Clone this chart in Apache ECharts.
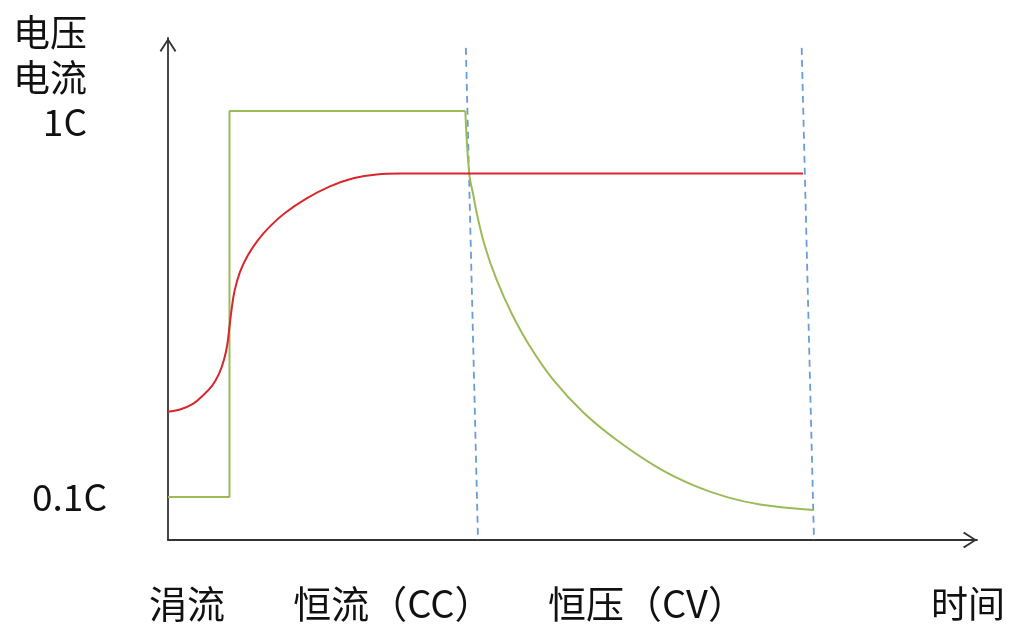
<!DOCTYPE html>
<html>
<head>
<meta charset="utf-8">
<script src="https://cdn.jsdelivr.net/npm/echarts@6/dist/echarts.min.js"></script>
<style>
html,body{margin:0;padding:0;background:#fff;}
#chart{width:1015px;height:628px;}
</style>
</head>
<body>
<div id="chart"></div>
<script>
// ---- data (time in arbitrary units 0..100, level in units of C) ----
const phaseLabels = ['涓流', '恒流（CC）', '恒压（CV）'];
const phaseLabelTimes = [2.35, 27.8, 59.2];
const yTickValues = [0.1, 1];
const yTickLabels = ['0.1C', '1C'];
const yAxisTitle = '电压\n电流';
const xAxisTitle = '时间';

// charging current: trickle, constant-current step, then taper in CV phase
const currentStep = [[0, 0.1], [7.6, 0.1], [7.6, 1.0], [36.75, 1.0]];
const currentTaper = [
  [36.75, 1.0], [37.24, 0.853], [37.74, 0.804], [38.16, 0.762], [39.18, 0.684],
  [40.63, 0.606], [42.48, 0.528], [44.75, 0.451], [47.63, 0.373], [51.34, 0.297],
  [55.46, 0.233], [60.6, 0.168], [64.89, 0.128], [69.1, 0.100], [73.18, 0.083],
  [79.73, 0.070]
];
// battery voltage
const voltage = [
  [0, 0.299], [1.48, 0.304], [3.13, 0.318], [4.33, 0.337], [5.44, 0.359],
  [6.30, 0.387], [6.92, 0.420], [7.33, 0.455], [7.58, 0.494], [7.85, 0.536],
  [8.22, 0.580], [8.90, 0.625], [9.89, 0.664], [11.12, 0.699], [12.61, 0.731],
  [14.46, 0.762], [17.14, 0.796], [20.02, 0.824], [22.9, 0.843], [25.8, 0.852],
  [28.68, 0.854], [78.5, 0.854]
];
// phase boundaries (dashed)
const boundaryCC = [[36.82, 1.147], [38.32, 0]];
const boundaryCV = [[78.33, 1.147], [79.85, 0]];

const FONT = '"Noto Sans CJK SC", "Noto Sans", sans-serif';
const TEXT = '#111111';
const AXIS = '#333333';
const chevron = 'path://M8.5,0 L17,13 L15.5,14.3 L8.5,3.2 L1.5,14.3 L0,13 Z';

const chart = echarts.init(document.getElementById('chart'), null, {renderer: 'canvas'});
chart.setOption({
  animation: false,
  backgroundColor: '#ffffff',
  grid: {left: 168, right: 38, top: 38, bottom: 88, containLabel: false, outerBoundsMode: 'none'},
  xAxis: {
    type: 'value', min: 0, max: 100,
    name: xAxisTitle, nameLocation: 'end', nameGap: -9, nameMoveOverlap: false,
    nameTextStyle: {fontFamily: FONT, fontSize: 37, color: TEXT, align: 'center', verticalAlign: 'top', lineHeight: 40, padding: [44, 0, 0, 0]},
    axisLine: {show: true, onZero: false, symbol: ['none', chevron], symbolSize: [17, 14], symbolOffset: [0, -7], lineStyle: {color: AXIS, width: 1.8}},
    axisTick: {show: false},
    splitLine: {show: false},
    axisLabel: {
      show: true, customValues: phaseLabelTimes, margin: 44,
      fontFamily: FONT, fontSize: 38, color: TEXT, lineHeight: 40,
      formatter: function (v) { const i = phaseLabelTimes.indexOf(v); return i >= 0 ? phaseLabels[i] : ''; }
    }
  },
  yAxis: {
    type: 'value', min: 0, max: 1.17,
    name: yAxisTitle, nameLocation: 'end', nameGap: 28, nameMoveOverlap: false,
    nameTextStyle: {fontFamily: FONT, fontSize: 37, color: TEXT, align: 'right', verticalAlign: 'top', lineHeight: 45, padding: [0, 81, 0, 0]},
    axisLine: {show: true, onZero: false, symbol: ['none', chevron], symbolSize: [17, 14], symbolOffset: [0, -7], lineStyle: {color: AXIS, width: 1.8}},
    axisTick: {show: false},
    splitLine: {show: false},
    axisLabel: {
      show: true, customValues: yTickValues, margin: 61,
      fontFamily: FONT, fontSize: 37, color: TEXT, lineHeight: 22,
      formatter: function (v) {
        const i = yTickValues.indexOf(v);
        if (i < 0) return '';
        return v === 1 ? '\n{b|' + yTickLabels[i] + '}' : yTickLabels[i];
      },
      rich: {b: {fontFamily: FONT, fontSize: 37, color: TEXT, lineHeight: 22, padding: [0, 20, 0, 0]}}
    }
  },
  series: [
    {type: 'line', name: '电流', data: currentStep, symbol: 'none', lineStyle: {color: '#9BBB59', width: 2}, z: 3},
    {type: 'line', name: '电流', data: currentTaper, symbol: 'none', smooth: 0.4, lineStyle: {color: '#9BBB59', width: 2}, z: 3},
    {type: 'line', name: '电压', data: voltage, symbol: 'none', smooth: 0.4, lineStyle: {color: '#D9262C', width: 2}, z: 4},
    {type: 'line', data: boundaryCC, symbol: 'none', lineStyle: {color: '#6A9CD8', width: 1.8, type: [7, 5]}, z: 2},
    {type: 'line', data: boundaryCV, symbol: 'none', lineStyle: {color: '#6A9CD8', width: 1.8, type: [7, 5]}, z: 2}
  ]
});
</script>
</body>
</html>
